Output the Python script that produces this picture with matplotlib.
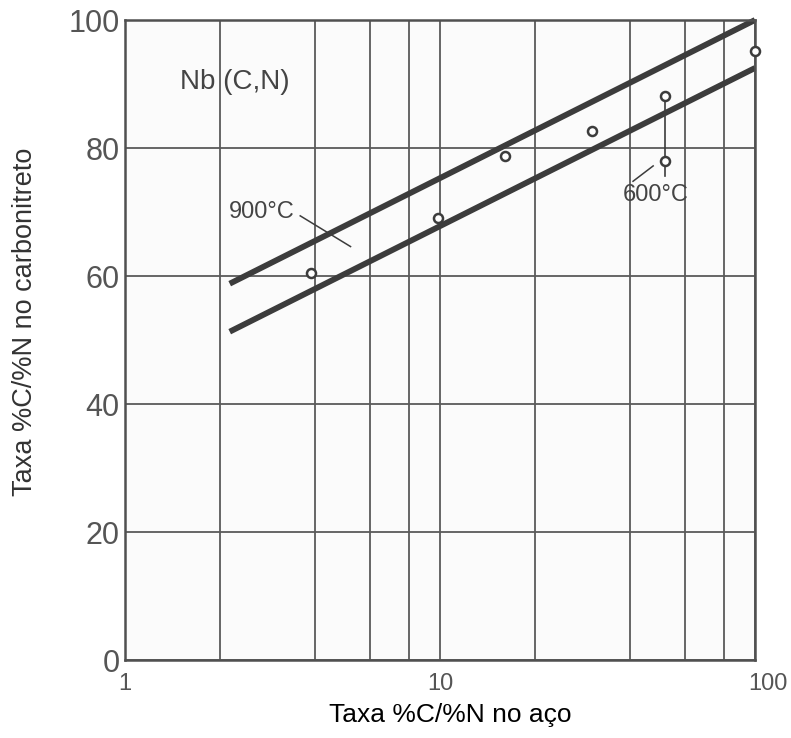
import matplotlib
matplotlib.use("Agg")
import matplotlib.pyplot as plt
from matplotlib.ticker import FixedLocator, NullFormatter
from matplotlib.transforms import ScaledTranslation

plt.rcParams['font.family'] = ['Liberation Sans', 'DejaVu Sans']

# Data
line_x = [2.15, 100.0]
line_900_y = [58.8, 100.0]
line_600_y = [51.3, 92.5]

pts_x = [3.9, 9.85, 16.1, 30.3, 51.7, 51.7, 100.0]
pts_y = [60.4, 69.0, 78.8, 82.7, 88.1, 77.9, 95.2]

# vertical bar linking the two points near 50
bar_x = [51.7, 51.7]
bar_y = [87.4, 75.6]

x_major = [1, 10, 100]
x_major_labels = ['1', '10', '100']
x_minor = [2, 4, 6, 8, 20, 40, 60, 80]
y_ticks = [0, 20, 40, 60, 80, 100]

ink = '#3c3c3c'
grid_c = '#5a5a5a'

fig = plt.figure(figsize=(7.91, 7.38), dpi=100)
ax = fig.add_axes([125/791, 1 - 660/738, 630/791, 640/738])
ax.set_facecolor('#fbfbfb')

ax.set_xscale('log')
ax.set_xlim(1, 100)
ax.set_ylim(0, 100)

ax.xaxis.set_major_locator(FixedLocator(x_major))
ax.set_xticklabels(x_major_labels)
ax.xaxis.set_minor_locator(FixedLocator(x_minor))
ax.xaxis.set_minor_formatter(NullFormatter())
ax.set_yticks(y_ticks)

ax.grid(True, which='both', axis='x', color=grid_c, lw=1.3)
ax.grid(True, which='major', axis='y', color=grid_c, lw=1.3)
ax.set_axisbelow(True)

ax.tick_params(which='both', length=0)
ax.tick_params(axis='y', labelsize=22, pad=4, labelcolor='#555555')
ax.tick_params(axis='x', labelsize=17, pad=9, labelcolor='#555555')

# in the scan the "100" sits a little right of the last gridline
last = ax.get_xticklabels()[-1]
last.set_transform(last.get_transform() + ScaledTranslation(0.13, 0, fig.dpi_scale_trans))

for sp in ax.spines.values():
    sp.set_color('#505050')
    sp.set_linewidth(1.8)

# the two thick lines
ax.plot(line_x, line_900_y, color=ink, lw=4.2, solid_capstyle='butt', clip_on=False)
ax.plot(line_x, line_600_y, color=ink, lw=4.2, solid_capstyle='butt', clip_on=False)

# bar and points
ax.plot(bar_x, bar_y, color=ink, lw=1.2)
ax.plot(pts_x, pts_y, linestyle='none', marker='o', markersize=6.5,
        markerfacecolor='white', markeredgecolor=ink, markeredgewidth=1.8,
        clip_on=False, zorder=5)

# annotations
ax.text(1.5, 90.3, 'Nb (C,N)', fontsize=20, color='#444444', va='center', ha='left')
ax.text(2.72, 70.0, '900°C', fontsize=17, color='#444444', va='center', ha='center')
ax.plot([3.6, 5.2], [69.4, 64.6], color=ink, lw=1.1)
ax.text(48.5, 72.6, '600°C', fontsize=17, color='#444444', va='center', ha='center')
ax.plot([41.0, 47.5], [74.8, 77.2], color=ink, lw=1.1)

fig.text(450/791, 1 - 715/738, 'Taxa %C/%N no aço', fontsize=19,
         color='black', ha='center', va='center')
fig.text(25/791, 1 - 322/738, 'Taxa %C/%N no carbonitreto', fontsize=19.5,
         color='#333333', ha='center', va='center', rotation=90)

fig.savefig('out.png', dpi=100, facecolor='white')
